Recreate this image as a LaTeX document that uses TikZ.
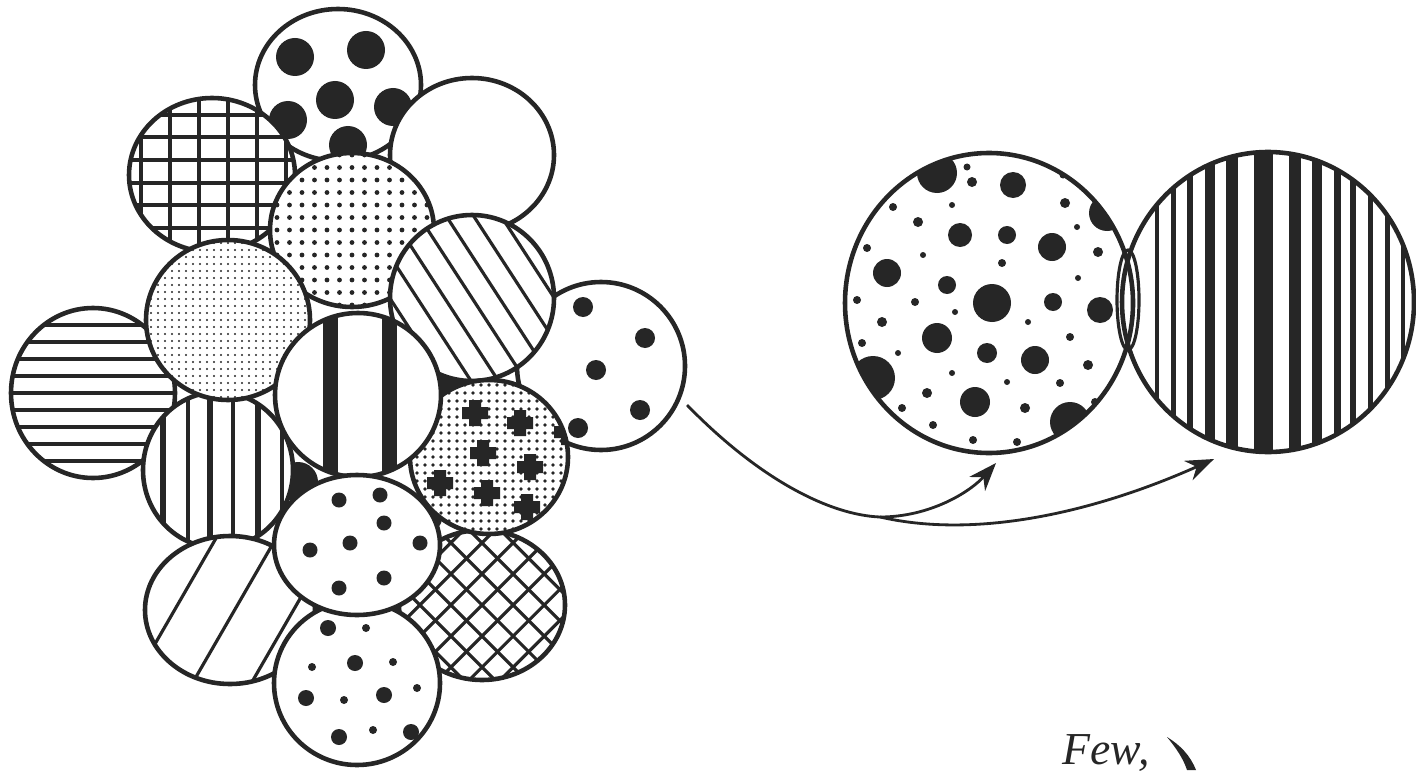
\documentclass[tikz,border=0pt]{standalone}
\usepackage{fontspec}
\usepackage{tikz}
\usepackage{xcolor}
\usetikzlibrary{arrows.meta, calc}
\newfontfamily\capfont{Liberation Serif}
\definecolor{Ink}{RGB}{38,38,38}
\tikzset{
  rim/.style={draw=Ink, line width=1.3pt},
  hatch/.style={draw=Ink, line width=0.9pt},
  ink/.style={fill=Ink},
  flow/.style={draw=Ink, line width=0.8pt, -{Stealth[length=8pt,width=6pt]}},
}
\begin{document}
\begin{tikzpicture}[x=0.01cm, y=-0.01cm]
  \useasboundingbox (0,0) rectangle (1416,770);
  % Dark gaps inside the cluster
  \fill[ink] (298,482) circle [radius=20];
  \fill[ink] (447,383) circle [radius=16];
  \fill[ink] (428,518) circle [radius=14];
  % Top dotted ball
  \begin{scope}[shift={(338,85)}]
    \fill[white] (0,0) ellipse [x radius=83, y radius=76];
    \begin{scope}
      \clip (0,0) ellipse [x radius=83, y radius=76];
      \foreach \x/\y in {-43/-28, 28/-35, -3/15, -50/35, 55/22, 10/60}
        \fill[ink] (\x,\y) circle [radius=19];
    \end{scope}
    \draw[rim] (0,0) ellipse [x radius=83, y radius=76];
  \end{scope}
  % Blank ball
  \begin{scope}[shift={(472,155)}]
    \filldraw[rim, fill=white] (0,0) ellipse [x radius=82, y radius=77];
  \end{scope}
  % Grid ball
  \begin{scope}[shift={(212,175)}]
    \fill[white] (0,0) ellipse [x radius=83, y radius=77];
    \begin{scope}
      \clip (0,0) ellipse [x radius=83, y radius=77];
      \foreach \t in {-71,-42,-13,16,45,74}
        \draw[hatch] (\t,-90) -- (\t,90);
      \foreach \t in {-60,-38,-15,8,30,53,75}
        \draw[hatch] (-90,\t) -- (90,\t);
    \end{scope}
    \draw[rim] (0,0) ellipse [x radius=83, y radius=77];
  \end{scope}
  % Fine dotted ball
  \begin{scope}[shift={(352,230)}]
    \fill[white] (0,0) ellipse [x radius=82, y radius=77];
    \begin{scope}
      \clip (0,0) ellipse [x radius=82, y radius=77];
      \foreach \i in {-7,...,7}
        \foreach \j in {-7,...,7}
          \fill[ink] (\i*12.5,\j*12.5) circle [radius=2.4];
    \end{scope}
    \draw[rim] (0,0) ellipse [x radius=82, y radius=77];
  \end{scope}
  % Horizontal lines ball
  \begin{scope}[shift={(93,393)}]
    \fill[white] (0,0) ellipse [x radius=82, y radius=85];
    \begin{scope}
      \clip (0,0) ellipse [x radius=82, y radius=85];
      \foreach \t in {-68,-51,...,68}
        \draw[hatch] (-90,\t) -- (90,\t);
    \end{scope}
    \draw[rim] (0,0) ellipse [x radius=82, y radius=85];
  \end{scope}
  % Few dots ball
  \begin{scope}[shift={(601,366)}]
    \fill[white] (0,0) ellipse [x radius=84, y radius=84];
    \begin{scope}
      \clip (0,0) ellipse [x radius=84, y radius=84];
      \foreach \x/\y in {-18/-59, 44/-28, -5/4, 39/44, -23/62}
        \fill[ink] (\x,\y) circle [radius=10];
    \end{scope}
    \draw[rim] (0,0) ellipse [x radius=84, y radius=84];
  \end{scope}
  % Slanted lines ball
  \begin{scope}[shift={(472,298)}]
    \fill[white] (0,0) ellipse [x radius=82, y radius=83];
    \begin{scope}
      \clip (0,0) ellipse [x radius=82, y radius=83];
      \foreach \t in {-69,-46,...,69}
        \draw[hatch, rotate=33] (\t,-100) -- (\t,100);
    \end{scope}
    \draw[rim] (0,0) ellipse [x radius=82, y radius=83];
  \end{scope}
  % Thin vertical lines ball
  \begin{scope}[shift={(218,470)}]
    \fill[white] (0,0) ellipse [x radius=75, y radius=78];
    \begin{scope}
      \clip (0,0) ellipse [x radius=75, y radius=78];
      \foreach \t in {-55,-8,40}
        \draw[draw=Ink, line width=1.7pt] (\t,-90) -- (\t,90);
      \foreach \t in {-30,15,64}
        \draw[hatch] (\t,-90) -- (\t,90);
    \end{scope}
    \draw[rim] (0,0) ellipse [x radius=75, y radius=78];
  \end{scope}
  % Stippled ball
  \begin{scope}[shift={(228,320)}]
    \fill[white] (0,0) ellipse [x radius=82, y radius=80];
    \begin{scope}
      \clip (0,0) ellipse [x radius=82, y radius=80];
      \foreach \i in {-12,...,12}
        \foreach \j in {-12,...,12}
          \fill[ink] (\i*7,\j*7) circle [radius=1.2];
    \end{scope}
    \draw[rim] (0,0) ellipse [x radius=82, y radius=80];
  \end{scope}
  % Cross-hatched ball
  \begin{scope}[shift={(482,605)}]
    \fill[white] (0,0) ellipse [x radius=83, y radius=75];
    \begin{scope}
      \clip (0,0) ellipse [x radius=83, y radius=75];
      \foreach \t in {-110,-88,...,110} {
        \draw[hatch, rotate=45] (\t,-120) -- (\t,120);
        \draw[hatch, rotate=-45] (\t,-120) -- (\t,120);
      }
    \end{scope}
    \draw[rim] (0,0) ellipse [x radius=83, y radius=75];
  \end{scope}
  % Sparse slanted ball
  \begin{scope}[shift={(230,610)}]
    \fill[white] (0,0) ellipse [x radius=85, y radius=74];
    \begin{scope}
      \clip (0,0) ellipse [x radius=85, y radius=74];
      \foreach \t in {-48,4,55}
        \draw[hatch, rotate=-30] (\t,-100) -- (\t,100);
    \end{scope}
    \draw[rim] (0,0) ellipse [x radius=85, y radius=74];
  \end{scope}
  % Bottom mixed dots ball
  \begin{scope}[shift={(357,683)}]
    \fill[white] (0,0) ellipse [x radius=83, y radius=82];
    \begin{scope}
      \clip (0,0) ellipse [x radius=83, y radius=82];
      \foreach \x/\y in {-29/-55, -2/-20, -51/15, 27/12, -18/54, 54/49}
        \fill[ink] (\x,\y) circle [radius=8];
      \foreach \x/\y in {9/-55, -45/-16, 36/-21, -13/17, 60/5, 16/47}
        \fill[ink] (\x,\y) circle [radius=4];
    \end{scope}
    \draw[rim] (0,0) ellipse [x radius=83, y radius=82];
  \end{scope}
  % Blotched ball
  \begin{scope}[shift={(489,457)}]
    \fill[white] (0,0) ellipse [x radius=79, y radius=77];
    \begin{scope}
      \clip (0,0) ellipse [x radius=79, y radius=77];
      \foreach \i in {-10,...,10}
        \foreach \j in {-10,...,10}
          \fill[ink] (\i*8,\j*8) circle [radius=1.8];
      \foreach \x/\y in {-14/-44, 31/-34, -6/-4, 41/10, -49/26, -2/36, 38/50, 78/-25}
        \fill[ink] (\x-13,\y-6) rectangle ++(26,12) (\x-6,\y-13) rectangle ++(12,26);
    \end{scope}
    \draw[rim] (0,0) ellipse [x radius=79, y radius=77];
  \end{scope}
  % Thick bars ball
  \begin{scope}[shift={(358,395)}]
    \fill[white] (0,0) ellipse [x radius=83, y radius=82];
    \begin{scope}
      \clip (0,0) ellipse [x radius=83, y radius=82];
      \fill[ink] (-35,-90) rectangle (-20,90);
      \fill[ink] (24,-90) rectangle (39,90);
    \end{scope}
    \draw[rim] (0,0) ellipse [x radius=83, y radius=82];
  \end{scope}
  % Lower dotted ball
  \begin{scope}[shift={(357,545)}]
    \fill[white] (0,0) ellipse [x radius=83, y radius=70];
    \begin{scope}
      \clip (0,0) ellipse [x radius=83, y radius=70];
      \foreach \x/\y in {-18/-45, 23/-50, 27/-22, -47/5, -7/-2, 63/-2, 27/33, -18/43}
        \fill[ink] (\x,\y) circle [radius=7.5];
    \end{scope}
    \draw[rim] (0,0) ellipse [x radius=83, y radius=70];
  \end{scope}

  % Dotted product ball
  \coordinate (dotty) at (989,303);
  \begin{scope}[shift={(dotty)}]
    \fill[white] (0,0) ellipse [x radius=144, y radius=150];
    \begin{scope}
      \clip (0,0) ellipse [x radius=144, y radius=150];
      % large dots
      \foreach \x/\y/\r in {24/-118/13, -29/-68/12, 18/-68/9, 63/-56/14,
          -102/-30/14, -42/-18/9, 3/0/19, 64/-1/9, 111/7/13, -52/35/15,
          -2/50/10, 46/57/14, -14/99/15}
        \fill[ink] (\x,\y) circle [radius=\r];
      % blobs on the rim
      \foreach \x/\y/\r in {-52/-130/20, 118/-90/18, -116/75/22, 81/119/20}
        \fill[ink] (\x,\y) circle [radius=\r];
      % small dots
      \foreach \x/\y/\r in {-22/-136/3.5, -17/-121/5, 74/-128/3.5, 76/-100/5,
          -96/-96/4, -71/-81/5, -37/-98/3, 88/-76/3, 109/-51/5, -122/-55/4,
          -66/-48/3, 13/-40/4, 89/-25/3, -132/-3/4, -74/-1/4, -34/9/3,
          39/19/3, 81/34/4, -107/19/5, -127/40/4, -91/50/3, -37/70/3,
          18/79/3, 71/80/4, 99/62/5, -62/90/5, -87/105/4, 36/105/5,
          106/99/4, -56/122/4, -16/137/4, 28/139/4}
        \fill[ink] (\x,\y) circle [radius=\r];
    \end{scope}
    \draw[rim] (0,0) ellipse [x radius=144, y radius=150];
  \end{scope}
  % Striped product ball
  \coordinate (stripy) at (1268,302);
  \begin{scope}[shift={(stripy)}]
    \begin{scope}
      \clip (0,0) ellipse [x radius=146, y radius=150];
      \foreach \x/\w in {-111/4, -95/5, -78/6, -58/10, -36/12, -5/19, 27/12,
          49/10, 69/7, 85/6, 102/5, 119/5, 135/4}
        \fill[ink] (\x-\w/2,-160) rectangle (\x+\w/2,160);
    \end{scope}
    \draw[rim] (0,0) ellipse [x radius=146, y radius=150];
    \draw[hatch] (-140,-2) ellipse [x radius=11, y radius=50];
  \end{scope}

  % Arrows
  \coordinate (outlet) at (687,405);
  \coordinate (split) at (880,517);
  \coordinate (fineEnd) at (996,463);
  \coordinate (coarseEnd) at (1214,459);
  \draw[flow] (outlet) .. controls (760,480) and (830,515) .. (split)
    .. controls (930,517) and (970,492) .. (fineEnd);
  \draw[flow] (split) .. controls (980,540) and (1100,510) .. (coarseEnd);

  % Caption fragment
  \node[anchor=base west, inner sep=0pt, font=\capfont\fontsize{13}{15}\selectfont\itshape, text=Ink]
    (few) at (1062,764) {Few,};
  \fill[ink] (1167,737) .. controls (1180,745) and (1190,755) .. (1196,770)
    -- (1187,770) .. controls (1183,758) and (1176,748) .. (1167,737);
\end{tikzpicture}
\end{document}
